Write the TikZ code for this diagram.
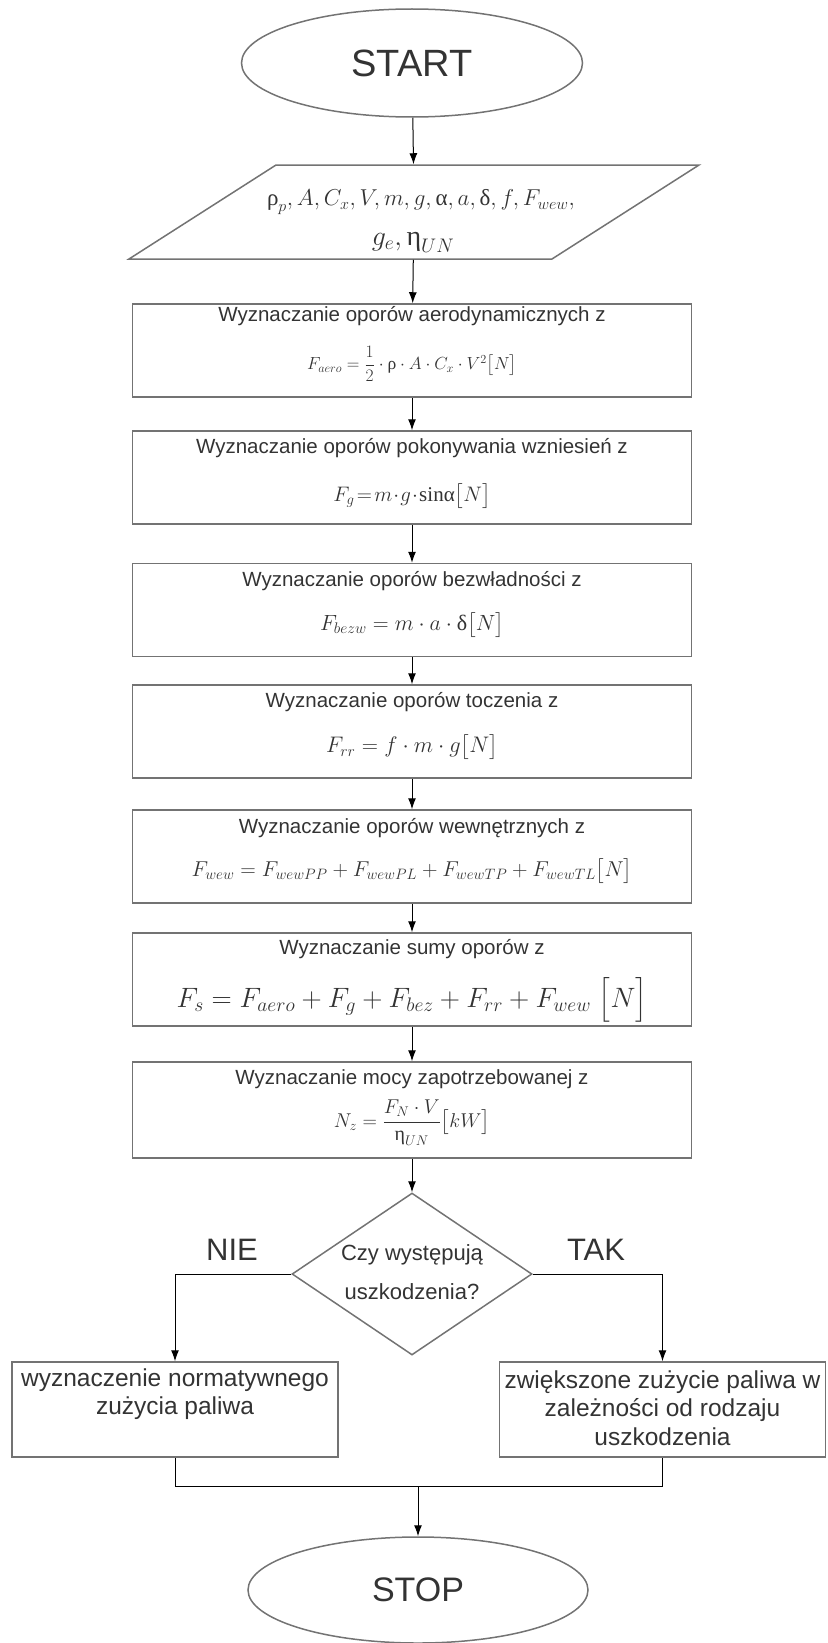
\RequirePackage{fix-cm}
\documentclass[tikz,border=0pt]{standalone}
\usepackage{amsmath}
\usepackage{fontspec}
\setmainfont{Liberation Sans}
\newfontfamily\grk{Liberation Serif}
\newcommand\gk[1]{\text{\grk #1}}
\usetikzlibrary{shapes.geometric}
\usetikzlibrary{arrows.meta}

\begin{document}
\begin{tikzpicture}[x=1pt,y=-1pt,line width=1pt,>={Latex[length=11pt,width=8pt]},
  every node/.style={color=black!80},
  kraniec/.style={draw=black!55,line width=1.5pt,ellipse,minimum width=341pt,minimum height=108pt,inner sep=0pt},
  dane/.style={draw=black!55,line width=1.5pt,minimum width=423pt,minimum height=94pt,inner sep=0pt,transform shape},
  blok/.style={draw=black!55,line width=1.5pt,minimum width=559pt,minimum height=93pt},
  tytul/.style={font=\fontsize{20.5}{24}\selectfont,inner sep=0pt},
  wzor/.style={inner sep=0pt},
  decyzja/.style={draw=black!55,line width=1.5pt,diamond,minimum width=240pt,minimum height=162pt,inner sep=0pt},
  wynik/.style={draw=black!55,line width=1.5pt,minimum width=326pt,minimum height=95pt},
  wynikT/.style={font=\fontsize{24.5}{28.5}\selectfont,align=center,inner sep=0pt},
  etykieta/.style={font=\fontsize{31}{36}\selectfont,inner sep=0pt}]
\useasboundingbox (0,0) rectangle (827,1643);

\node[kraniec,font=\fontsize{38}{44}\selectfont](start) at (412,63) {START};

% parallelogram of input data
\begin{scope}[shift={(414,212)},xslant=1.564]
\node[dane](dane) at (0,0) {};
\end{scope}
\node[wzor,font=\fontsize{23}{26}\selectfont](daneA) at (421,202) {$\gk{ρ}_p, A, C_x, V, m, g, \gk{α}, a, \gk{δ}, f, F_{wew},$};
\node[wzor,font=\fontsize{28}{32}\selectfont](daneB) at (413,242) {$g_e,\gk{η}_{UN}$};

\node[blok](b1) at (412,350.5) {};
\node[tytul](t1) at (412,316) {Wyznaczanie oporów aerodynamicznych z};
\node[wzor,font=\fontsize{17.5}{20}\selectfont](w1) at (412,364) {$F_{aero}=\dfrac{1}{2}\cdot\gk{ρ}\cdot A\cdot C_x\cdot V^2\bigl[N\bigr]$};

\node[blok](b2) at (412,477.5) {};
\node[tytul](t2) at (412,448) {Wyznaczanie oporów pokonywania wzniesień z};
\node[wzor,font=\fontsize{21}{24}\selectfont](w2) at (412,496) {$F_g\!=\!m\!\cdot\! g\!\cdot\!\gk{sinα}\bigl[N\bigr]$};

\node[blok](b3) at (412,610) {};
\node[tytul](t3) at (412,581) {Wyznaczanie oporów bezwładności z};
\node[wzor,font=\fontsize{22}{26}\selectfont](w3) at (412,625) {$F_{bezw}=m\cdot a\cdot\gk{δ}\bigl[N\bigr]$};

\node[blok](b4) at (412,731.5) {};
\node[tytul](t4) at (412,702) {Wyznaczanie oporów toczenia z};
\node[wzor,font=\fontsize{22.5}{26}\selectfont](w4) at (412,747) {$F_{rr}=f\cdot m\cdot g\bigl[N\bigr]$};

\node[blok](b5) at (412,856.5) {};
\node[tytul](t5) at (412,828) {Wyznaczanie oporów wewnętrznych z};
\node[wzor,font=\fontsize{21.5}{25}\selectfont](w5) at (412,871) {$F_{wew}=F_{wewPP}+F_{wewPL}+F_{wewTP}+F_{wewTL}\bigl[N\bigr]$};

\node[blok](b6) at (412,979.5) {};
\node[tytul](t6) at (412,949) {Wyznaczanie sumy oporów z};
\node[wzor,font=\fontsize{28}{32}\selectfont](w6) at (412,1000) {$F_s=F_{aero}+F_g+F_{bez}+F_{rr}+F_{wew}\;\bigl[N\bigr]$};

\node[blok,minimum height=96pt](b7) at (412,1110) {};
\node[tytul](t7) at (412,1079) {Wyznaczanie mocy zapotrzebowanej z};
\node[wzor,font=\fontsize{20}{23}\selectfont](w7) at (412,1123) {$N_z=\dfrac{F_N\cdot V}{\gk{η}_{UN}}\bigl[kW\bigr]$};

\node[decyzja](pyt) at (412,1274) {};
\node[wzor,font=\fontsize{22}{39}\selectfont,align=center](pytT) at (412,1272) {Czy występują\\uszkodzenia?};
\node[etykieta](nie) at (232,1250) {NIE};
\node[etykieta](tak) at (596,1250) {TAK};

\node[wynik](lewy) at (175,1409.5) {};
\node[wynikT](lewyT) at (175,1394) {wyznaczenie normatywnego\\zużycia paliwa};
\node[wynik](prawy) at (662.5,1409.5) {};
\node[wynikT](prawyT) at (662.5,1408) {zwiększone zużycie paliwa w\\zależności od rodzaju\\uszkodzenia};

\coordinate(zbieg) at (418,1486);
\node[kraniec,minimum width=340pt,minimum height=106pt,font=\fontsize{34}{40}\selectfont](stop) at (418,1590) {STOP};

\draw[->] (start)--(dane); \draw[->] (dane)--(b1);
\draw[->] (b1)--(b2); \draw[->] (b2)--(b3); \draw[->] (b3)--(b4);
\draw[->] (b4)--(b5); \draw[->] (b5)--(b6); \draw[->] (b6)--(b7);
\draw[->] (b7)--(pyt);
\draw[->] (pyt)-|(lewy); \draw[->] (pyt)-|(prawy);
\draw (lewy)|-(zbieg)-|(prawy);
\draw[->] (zbieg)--(stop);
\end{tikzpicture}
\end{document}
